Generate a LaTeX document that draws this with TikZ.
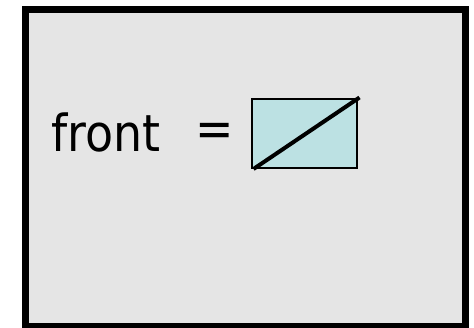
\documentclass[tikz,border=0pt]{standalone}
\usepackage{fontspec}
\setmainfont{DejaVu Sans Condensed}
\definecolor{panelgray}{HTML}{E5E5E5}
\definecolor{boxcyan}{HTML}{BCE1E3}
\begin{document}
\begin{tikzpicture}[x=1pt,y=1pt,
  panel/.style={draw=black,line width=7pt,fill=panelgray},
  facebox/.style={draw=black,line width=2pt,fill=boxcyan},
  diag/.style={draw=black,line width=4pt},
  lbl/.style={inner sep=0pt,font=\fontsize{51}{60}\selectfont}]
\useasboundingbox (0,0) rectangle (474,327);
\clip (0,0) rectangle (474,327);
\draw[panel] (25.5,317) rectangle (465,0.5);
\node[lbl,anchor=base west] (front) at (51,175.3) {front};
\node[lbl] (eq) at (215,192) {=};
\draw[facebox] (252.3,158.7) rectangle (357,228.3);
\coordinate (dl) at (253.5,158);
\coordinate (dr) at (359.5,229.5);
\draw[diag] (dl) -- (dr);
\end{tikzpicture}
\end{document}
